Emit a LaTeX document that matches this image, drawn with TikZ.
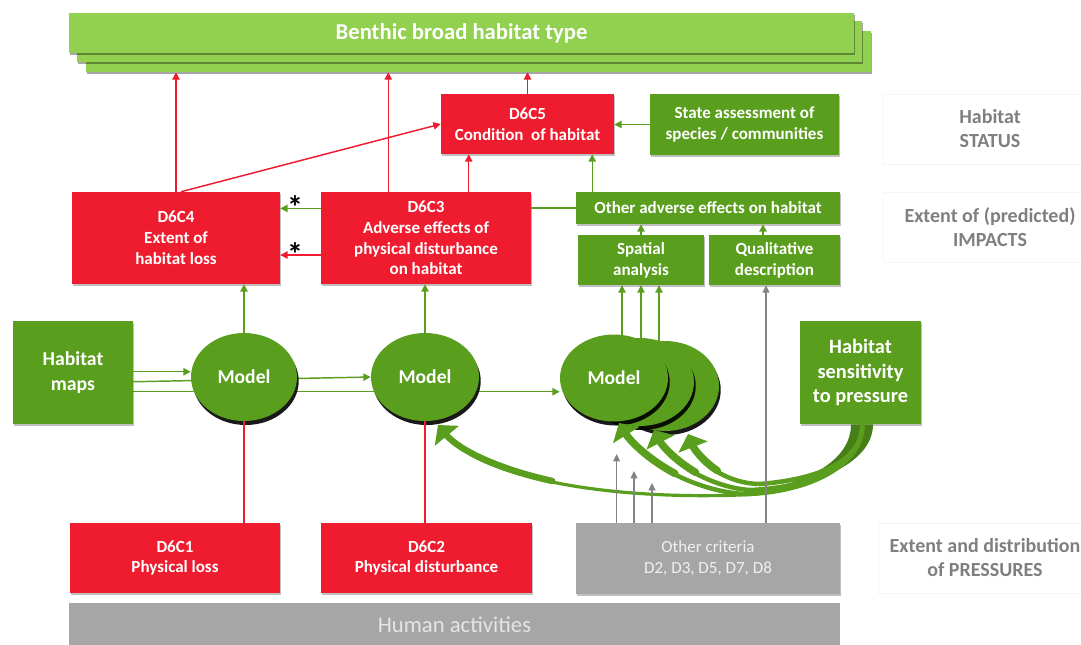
\documentclass[tikz,border=0pt]{standalone}
\usepackage{fontspec}
\setmainfont{Carlito}
\usetikzlibrary{arrows.meta,calc,shapes.geometric,shadows,backgrounds}
\definecolor{myred}{HTML}{EE1C2E}
\definecolor{mygreen}{HTML}{5A9E1E}
\definecolor{lightgreen}{HTML}{92D050}
\definecolor{mygray}{HTML}{A6A6A6}
\definecolor{darkgreen}{HTML}{467F17}
\definecolor{labelgray}{HTML}{7F7F7F}
\definecolor{arrowgray}{HTML}{838383}
\tikzset{
  box/.style={rectangle, inner sep=0pt, align=center, text=white,
    font=\bfseries\fontsize{12.75}{15.6}\selectfont,
    drop shadow={shadow xshift=1pt, shadow yshift=-1.2pt, opacity=0.25, fill=black}},
  redbox/.style={box, fill=myred},
  greenbox/.style={box, fill=mygreen},
  graybox/.style={box, fill=mygray, text=white!94!black, font=\fontsize{12.75}{15.6}\selectfont},
  bannerbox/.style={rectangle, inner sep=0pt, fill=lightgreen, minimum width=588.75pt,
    drop shadow={shadow xshift=0.8pt, shadow yshift=-1.5pt, opacity=0.35, fill=black}},
  model/.style={ellipse, fill=mygreen, inner sep=0pt, text=white,
    font=\bfseries\fontsize{14.7}{17}\selectfont,
    drop shadow={shadow xshift=1.3pt, shadow yshift=-3pt, opacity=0.9, fill=black}},
  rarrow/.style={draw=myred, line width=1.1pt, -{Triangle[length=5.5pt,width=5.5pt]}},
  rline/.style={draw=myred, line width=1.1pt},
  garrow/.style={draw=mygreen, line width=1.1pt, -{Triangle[length=5.5pt,width=5.5pt]}},
  gline/.style={draw=mygreen, line width=1.1pt},
  grayarrow/.style={draw=arrowgray, line width=1.1pt, -{Triangle[length=5.5pt,width=5pt]}},
  bigarrow/.style={draw=mygreen, line width=3.4pt, -{Triangle[length=10.5pt,width=23pt]}},
  taper/.style={draw=mygreen, line width=5.6pt, shorten >=9pt, line cap=round},
  labelbox/.style={rectangle, draw=black!4, line width=0.5pt, align=center, text=labelgray,
    font=\bfseries\fontsize{15}{18}\selectfont, minimum width=160.5pt, minimum height=52.5pt},
  star/.style={inner sep=0pt, font=\bfseries\fontsize{24}{24}\selectfont, text=black}
}
\begin{document}
\begin{tikzpicture}[x=0.75pt,y=-0.75pt]
\useasboundingbox (0,0) rectangle (1081,644);

% banner
\node[bannerbox, minimum height=30.75pt] (banner3) at (478.5,51.5) {};
\node[bannerbox, minimum height=30.75pt] (banner2) at (469.5,41.5) {};
\node[bannerbox, minimum height=30pt, text=white, font=\bfseries\fontsize{17}{20}\selectfont] (banner) at (461.5,33) {Benthic broad habitat type};

% status row
\node[redbox, minimum width=129.75pt, minimum height=45pt] (d6c5) at (527.5,124) {D6C5\\Condition\hspace{0.45em}of habitat};
\node[greenbox, minimum width=141.75pt, minimum height=45.75pt] (state) at (744.5,124.5) {State assessment of\\species / communities};

% impacts row
\node[redbox, minimum width=156pt, minimum height=69pt] (d6c4) at (176,238) {D6C4\\Extent of\\habitat loss};
\node[redbox, minimum width=157.5pt, minimum height=69pt] (d6c3) at (426,238) {D6C3\\Adverse effects of\\physical disturbance\\on habitat};
\node[greenbox, minimum width=198pt, minimum height=24pt] (other) at (708,208) {Other adverse effects on habitat};
\node[greenbox, minimum width=94.5pt, minimum height=37.5pt] (spatial) at (641,260) {Spatial\\analysis};
\node[greenbox, minimum width=98.25pt, minimum height=37.5pt] (qual) at (774.5,260) {Qualitative\\description};

% model row
\node[greenbox, minimum width=90pt, minimum height=77.25pt, font=\bfseries\fontsize{14.8}{18.75}\selectfont] (maps) at (73,372.5) {Habitat\\maps};
\node[greenbox, minimum width=90.75pt, minimum height=77.25pt, font=\bfseries\fontsize{15.3}{18.5}\selectfont] (sens) at (860.5,372.5) {Habitat\\sensitivity\\to pressure};
\node[model, minimum width=79.5pt, minimum height=66pt] (model1) at (244,377) {Model};
\node[model, minimum width=81pt, minimum height=66pt] (model2) at (425,377) {Model};
\node[model, minimum width=81pt, minimum height=67.5pt] (model3c) at (665,386) {};
\node[model, minimum width=81pt, minimum height=66pt] (model3b) at (640,382) {};
\node[model, minimum width=81pt, minimum height=65.25pt] (model3a) at (614,378) {Model};

% pressures row
\node[redbox, minimum width=157.5pt, minimum height=52.5pt] (d6c1) at (175,558) {D6C1\\Physical loss};
\node[redbox, minimum width=158.25pt, minimum height=52.5pt] (d6c2) at (426.5,558) {D6C2\\Physical disturbance};
\node[graybox, minimum width=198pt, minimum height=53.25pt] (crit) at (708,558.5) {Other criteria\\D2, D3, D5, D7, D8};
\node[rectangle, fill=mygray, inner sep=0pt, minimum width=578.25pt, minimum height=32pt, text=white!90!black, font=\fontsize{17}{20}\selectfont] (human) at (454.5,624.5) {Human activities};

% right labels
\node[labelbox] (status) at (990,129) {Habitat\\STATUS};
\node[labelbox] (impacts) at (990,227) {Extent of (predicted)\\IMPACTS};
\node[labelbox] (pressures) at (985,558) {Extent and distribution\\of PRESSURES};

% asterisks
\node[star] (star1) at (295,207) {*};
\node[star] (star2) at (295,254) {*};

% lines behind the models
\begin{pgfonlayer}{background}
\coordinate (mp2) at ($(maps.north east)+(0,61)$);
\coordinate (mp3) at ($(maps.north east)+(0,71)$);
\draw[garrow] (mp2) -- (model2.west);
\draw[garrow] (mp3) -- (mp3 -| model3a.west);
\coordinate (m3a) at ($(model3a.center)+(8,0)$);
\coordinate (m3b) at ($(model3b.center)+(1,0)$);
\coordinate (m3c) at ($(model3c.center)+(-6,0)$);
\draw[garrow] (m3a) -- (m3a |- spatial.south);
\draw[garrow] (m3b) -- (m3b |- spatial.south);
\draw[garrow] (m3c) -- (m3c |- spatial.south);
\end{pgfonlayer}

% connectors to the banner
\draw[rarrow] (d6c4.north) -- (d6c4.north |- banner3.south);
\coordinate (r3) at ($(d6c3.north west)+(67.5,0)$);
\draw[rarrow] (r3) -- (r3 |- banner3.south);
\draw[rarrow] (d6c5.north) -- (d6c5.north |- banner3.south);

% into D6C5
\draw[rarrow] ($(d6c4.north)+(5,0)$) -- (d6c5.west);
\coordinate (r5) at ($(d6c5.south west)+(28,0)$);
\draw[rarrow] (r5 |- d6c3.north) -- (r5);
\draw[garrow] (state.west) -- (state.west -| d6c5.east);
\coordinate (g5) at ($(other.north west)+(16.5,0)$);
\draw[garrow] (g5) -- (g5 |- d6c5.south);

% D6C3 to D6C4
\coordinate (a1) at ($(d6c3.north west)+(0,16.7)$);
\coordinate (a2) at ($(d6c3.north west)+(0,63.3)$);
\draw[garrow] (a1) -- (a1 -| d6c4.east);
\draw[rarrow] (a2) -- (a2 -| d6c4.east);
\draw[gline] (d6c3.east |- other.west) -- (other.west);

% into other adverse effects
\draw[garrow] (spatial.north) -- (spatial.north |- other.south);
\coordinate (q1) at ($(qual.north)+(-11.5,0)$);
\draw[garrow] (q1) -- (q1 |- other.south);

% models up to the impacts
\draw[garrow] (model1.north) -- (model1.north |- d6c4.south);
\draw[garrow] (model2.north) -- (model2.north |- d6c3.south);

% maps to model 1
\coordinate (mp1) at ($(maps.north east)+(0,51)$);
\draw[garrow] (mp1) -- (mp1 -| model1.west);

% pressures to models
\draw[rline] (model1.south |- d6c1.north) -- (model1.south);
\draw[rline] (model2.south |- d6c2.north) -- (model2.south);

% sensitivity curved arrows
\coordinate (s0) at ($(sens.south)+(2,0)$);
\fill[darkgreen] ($(sens.south)+(-9.5,0)$) .. controls (851,462) and (805,484) .. (745,494)
   .. controls (808,488) and (873,466) .. ($(sens.south)+(12.5,0)$) -- cycle;
\coordinate (tA) at ($(model2.center)+(13,48)$);
\coordinate (tB) at ($(model3a.center)+(5,45)$);
\coordinate (tC) at ($(model3b.center)+(14,48)$);
\coordinate (tD) at ($(model3c.center)+(23,48)$);
\draw[bigarrow, line width=2.4pt] (s0) .. controls (862,470) and (800,493) .. (740,495)
   .. controls (600,500) and (480,476) .. (tA);
\draw[taper, line width=4.8pt] (552.25,481) .. controls (499.5,469.25) and (459,450.5) .. (tA);
\draw[bigarrow] (s0) .. controls (862,470) and (800,493) .. (745,494)
   .. controls (700,492) and (645,465) .. (tB);
\draw[taper] (674.9,473.5) .. controls (652.25,461.25) and (632,444) .. (tB);
\draw[bigarrow] (s0) .. controls (862,468) and (805,488) .. (750,490)
   .. controls (715,488) and (672,465) .. (tC);
\draw[taper] (695.6,472.4) .. controls (678.25,462) and (663,447.5) .. (tC);
\draw[bigarrow] (s0) .. controls (862,465) and (810,480) .. (760,484)
   .. controls (730,484) and (700,465) .. (tD);
\draw[taper] (717.25,470.6) .. controls (704.5,462) and (694,449.5) .. (tD);

% other criteria arrows
\coordinate (g1) at (616.6,454);
\coordinate (g2) at (634,471);
\coordinate (g3) at (652,483);
\draw[grayarrow] (g1 |- crit.north) -- (g1);
\draw[grayarrow] (g2 |- crit.north) -- (g2);
\draw[grayarrow] (g3 |- crit.north) -- (g3);
\coordinate (qin) at ($(qual.south)+(-8.5,0)$);
\draw[grayarrow] (qin |- crit.north) -- (qin);
\end{tikzpicture}
\end{document}
